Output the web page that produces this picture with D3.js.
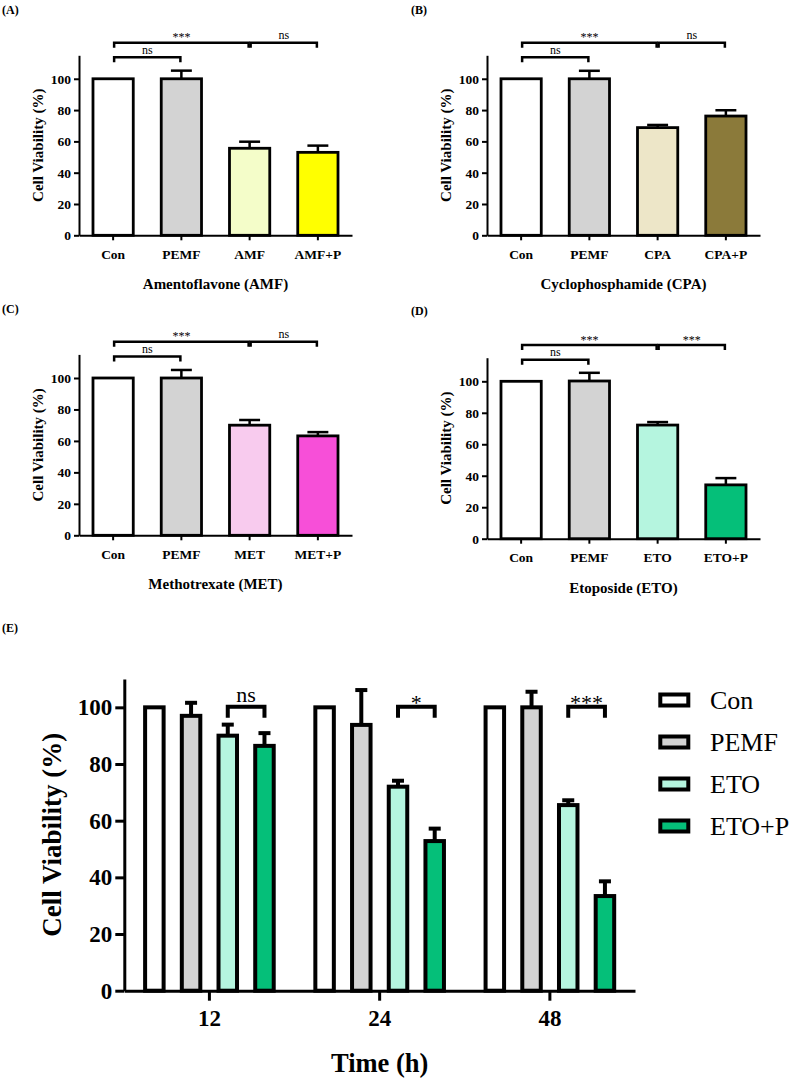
<!DOCTYPE html>
<html><head><meta charset="utf-8">
<script src="https://cdn.jsdelivr.net/npm/d3@7"></script>
<style>
body{margin:0;background:#fff}
svg{display:block}
text{font-family:"Liberation Serif","Times New Roman",serif;fill:#000}
</style>
</head><body>
<svg id="chart" width="792" height="1078"></svg>
<script>
// ---------- DATA ----------
const catsA = ["Con", "PEMF", "AMF", "AMF+P"];
const valsA = [100, 100, 55.6, 53];
const errsA = [0, 5.2, 4.2, 4.3];

const catsB = ["Con", "PEMF", "CPA", "CPA+P"];
const valsB = [100, 100, 68.8, 76.2];
const errsB = [0, 5.1, 1.7, 3.7];

const catsC = ["Con", "PEMF", "MET", "MET+P"];
const valsC = [100, 100, 70, 63.2];
const errsC = [0, 5.1, 3.3, 2.4];

const catsD = ["Con", "PEMF", "ETO", "ETO+P"];
const valsD = [100, 100.2, 72.2, 34.2];
const errsD = [0, 5.2, 1.9, 4.3];

const sigA = [["Con", "AMF", "***", 0], ["AMF", "AMF+P", "ns", 0], ["Con", "PEMF", "ns", 1]];
const sigB = [["Con", "CPA", "***", 0], ["CPA", "CPA+P", "ns", 0], ["Con", "PEMF", "ns", 1]];
const sigC = [["Con", "MET", "***", 0], ["MET", "MET+P", "ns", 0], ["Con", "PEMF", "ns", 1]];
const sigD = [["Con", "ETO", "***", 0], ["ETO", "ETO+P", "***", 0], ["Con", "PEMF", "ns", 1]];

const yTicksSmall = [0, 20, 40, 60, 80, 100];

const timesE = ["12", "24", "48"];
const seriesE = ["Con", "PEMF", "ETO", "ETO+P"];
const conE = [100, 100, 100];
const conErrE = [0, 0, 0];
const pemfE = [97, 93.8, 100];
const pemfErrE = [4.6, 12.3, 5.5];
const etoE = [90, 72, 65.5];
const etoErrE = [3.9, 2.1, 1.7];
const etoPE = [86.4, 52.8, 33.4];
const etoPErrE = [4.5, 4.4, 5.2];
const sigE = [["12", "ns"], ["24", "*"], ["48", "***"]];
const yTicksE = [0, 20, 40, 60, 80, 100];

// ---------- STYLE / LAYOUT ----------
const colorsA = ["#ffffff", "#d3d3d3", "#f4fdc9", "#ffff00"];
const colorsB = ["#ffffff", "#d3d3d3", "#ede6c8", "#8b7a3a"];
const colorsC = ["#ffffff", "#d3d3d3", "#f8cbee", "#f74fd8"];
const colorsD = ["#ffffff", "#d3d3d3", "#b5f5df", "#05bf79"];
const colorsE = ["#ffffff", "#d3d3d3", "#b5f5df", "#05bf79"];

const svg = d3.select("#chart");
const FONT = '"Liberation Serif","Times New Roman",serif';

function smallPanel(p) {
  const g = svg.append("g");
  const x = d3.scaleBand().domain(p.cats).range([p.left, p.right]).paddingInner(0.41).paddingOuter(0.205);
  const y = d3.scaleLinear().domain([0, 115]).range([p.y0, p.top]);
  const cx = c => x(c) + x.bandwidth() / 2;

  // panel label
  g.append("text").attr("x", p.labelX).attr("y", p.labelY).attr("font-size", 12).attr("font-weight", "bold").text(p.label);

  // bars
  const rows = p.cats.map((c, i) => ({ c, v: p.vals[i], e: p.errs[i], col: p.colors[i] }));
  g.selectAll("rect.bar").data(rows).join("rect").attr("class", "bar")
    .attr("x", d => x(d.c)).attr("width", x.bandwidth())
    .attr("y", d => y(d.v)).attr("height", d => y(0) - y(d.v))
    .attr("fill", d => d.col).attr("stroke", "#000").attr("stroke-width", 2.8);

  // error bars
  const capW = x.bandwidth() * 0.52;
  const eb = g.selectAll("g.err").data(rows.filter(d => d.e > 0)).join("g").attr("class", "err")
    .attr("stroke", "#000").attr("stroke-width", 2.5);
  eb.append("line").attr("x1", d => cx(d.c)).attr("x2", d => cx(d.c)).attr("y1", d => y(d.v)).attr("y2", d => y(d.v + d.e));
  eb.append("line").attr("x1", d => cx(d.c) - capW / 2).attr("x2", d => cx(d.c) + capW / 2).attr("y1", d => y(d.v + d.e)).attr("y2", d => y(d.v + d.e));

  // axes
  const ya = g.append("g").attr("transform", `translate(${p.left},0)`)
    .call(d3.axisLeft(y).tickValues(yTicksSmall).tickSize(5).tickSizeOuter(0).tickPadding(3));
  ya.selectAll("text").attr("font-size", 13.5).attr("font-weight", "bold").attr("font-family", FONT);
  const xa = g.append("g").attr("transform", `translate(0,${p.y0})`)
    .call(d3.axisBottom(x).tickSize(5).tickSizeOuter(0).tickPadding(9));
  xa.selectAll("text").attr("font-size", 13.5).attr("font-weight", "bold").attr("font-family", FONT);
  g.selectAll(".domain, .tick line").attr("stroke", "#000").attr("stroke-width", 2);

  // axis titles
  g.append("text").attr("transform", `translate(${p.left - 36},${(p.y0 + p.top) / 2}) rotate(-90)`)
    .attr("text-anchor", "middle").attr("font-size", 15).attr("font-weight", "bold").text("Cell Viability (%)");
  g.append("text").attr("x", (p.left + p.right) / 2).attr("y", p.y0 + 54)
    .attr("text-anchor", "middle").attr("font-size", 15).attr("font-weight", "bold").text(p.title);

  // significance brackets
  const levelVal = [123, 113.7];
  p.sig.forEach(([a, b, lab, lv]) => {
    const x1 = cx(a) + 1, x2 = cx(b) - 1, yy = y(levelVal[lv]);
    g.append("path").attr("d", `M${x1},${yy + 5}V${yy}H${x2}V${yy + 5}`)
      .attr("fill", "none").attr("stroke", "#000").attr("stroke-width", 2.5);
    g.append("text").attr("x", (x1 + x2) / 2).attr("y", lab === "ns" ? yy - 3.5 : yy - 1.5)
      .attr("text-anchor", "middle").attr("font-size", 12).text(lab);
  });
}

smallPanel({ cats: catsA, vals: valsA, errs: errsA, colors: colorsA, sig: sigA, title: "Amentoflavone (AMF)",
  label: "(A)", labelX: 2, labelY: 14, left: 79, right: 352, y0: 235.3, top: 55.3 });
smallPanel({ cats: catsB, vals: valsB, errs: errsB, colors: colorsB, sig: sigB, title: "Cyclophosphamide (CPA)",
  label: "(B)", labelX: 411, labelY: 14, left: 487, right: 760, y0: 235.3, top: 55.3 });
smallPanel({ cats: catsC, vals: valsC, errs: errsC, colors: colorsC, sig: sigC, title: "Methotrexate (MET)",
  label: "(C)", labelX: 2, labelY: 313, left: 79, right: 352, y0: 535.3, top: 354.4 });
smallPanel({ cats: catsD, vals: valsD, errs: errsD, colors: colorsD, sig: sigD, title: "Etoposide (ETO)",
  label: "(D)", labelX: 411, labelY: 315, left: 487, right: 760, y0: 538.7, top: 357.7 });

// ---------- PANEL E ----------
(function () {
  const g = svg.append("g");
  const L = 124.3, R = 635, Y0 = 990.7, TOP = 679;
  const x0 = d3.scaleBand().domain(timesE).range([L, R]).padding(0);
  const x1 = d3.scaleBand().domain(seriesE).range([0, x0.bandwidth()]).paddingInner(0.496).paddingOuter(0.567);
  const y = d3.scaleLinear().domain([0, 110]).range([Y0, TOP]);
  const vals = [conE, pemfE, etoE, etoPE];
  const errs = [conErrE, pemfErrE, etoErrE, etoPErrE];

  g.append("text").attr("x", 2).attr("y", 632).attr("font-size", 12).attr("font-weight", "bold").text("(E)");

  const rows = [];
  timesE.forEach((t, ti) => seriesE.forEach((s, si) => rows.push({ t, s, v: vals[si][ti], e: errs[si][ti], col: colorsE[si] })));
  const bx = d => x0(d.t) + x1(d.s);
  const bc = d => bx(d) + x1.bandwidth() / 2;

  g.selectAll("rect.bar").data(rows).join("rect").attr("class", "bar")
    .attr("x", bx).attr("width", x1.bandwidth())
    .attr("y", d => y(d.v)).attr("height", d => Y0 - y(d.v))
    .attr("fill", d => d.col).attr("stroke", "#000").attr("stroke-width", 4);

  const capW = x1.bandwidth() * 0.65;
  const eb = g.selectAll("g.err").data(rows.filter(d => d.e > 0)).join("g").attr("class", "err")
    .attr("stroke", "#000").attr("stroke-width", 4);
  eb.append("line").attr("x1", bc).attr("x2", bc).attr("y1", d => y(d.v)).attr("y2", d => y(d.v + d.e));
  eb.append("line").attr("x1", d => bc(d) - capW / 2).attr("x2", d => bc(d) + capW / 2)
    .attr("y1", d => y(d.v + d.e)).attr("y2", d => y(d.v + d.e));

  const ya = g.append("g").attr("transform", `translate(${L},0)`)
    .call(d3.axisLeft(y).tickValues(yTicksE).tickSize(9).tickSizeOuter(0).tickPadding(3));
  ya.selectAll("text").attr("font-size", 23).attr("font-weight", "bold").attr("font-family", FONT);
  const xa = g.append("g").attr("transform", `translate(0,${Y0})`)
    .call(d3.axisBottom(x0).tickSize(10).tickSizeOuter(0).tickPadding(9));
  xa.selectAll("text").attr("font-size", 23).attr("font-weight", "bold").attr("font-family", FONT);
  g.selectAll(".domain, .tick line").attr("stroke", "#000").attr("stroke-width", 3);

  g.append("text").attr("transform", `translate(${L - 63},${(Y0 + TOP) / 2}) rotate(-90)`)
    .attr("text-anchor", "middle").attr("font-size", 27).attr("font-weight", "bold").text("Cell Viability (%)");
  g.append("text").attr("x", (L + R) / 2).attr("y", 1072)
    .attr("text-anchor", "middle").attr("font-size", 26.5).attr("font-weight", "bold").text("Time (h)");

  // brackets ETO vs ETO+P
  sigE.forEach(([t, lab]) => {
    const xa1 = x0(t) + x1("ETO") + x1.bandwidth() / 2;
    const xa2 = x0(t) + x1("ETO+P") + x1.bandwidth() / 2;
    const yy = y(100.2);
    g.append("path").attr("d", `M${xa1},${yy + 11}V${yy}H${xa2}V${yy + 11}`)
      .attr("fill", "none").attr("stroke", "#000").attr("stroke-width", 4);
    g.append("text").attr("x", (xa1 + xa2) / 2).attr("y", lab === "ns" ? yy - 5 : yy + 3)
      .attr("text-anchor", "middle").attr("font-size", 22).text(lab);
  });

  // legend
  const lg = g.append("g");
  const ly = d3.scalePoint().domain(seriesE).range([700, 826]);
  seriesE.forEach((s, i) => {
    lg.append("rect").attr("x", 660.3).attr("y", ly(s) - 5.5).attr("width", 28).attr("height", 11)
      .attr("fill", colorsE[i]).attr("stroke", "#000").attr("stroke-width", 4);
    lg.append("text").attr("x", 710).attr("y", ly(s) + 9).attr("font-size", 26).text(s);
  });
})();
</script>
</body></html>
